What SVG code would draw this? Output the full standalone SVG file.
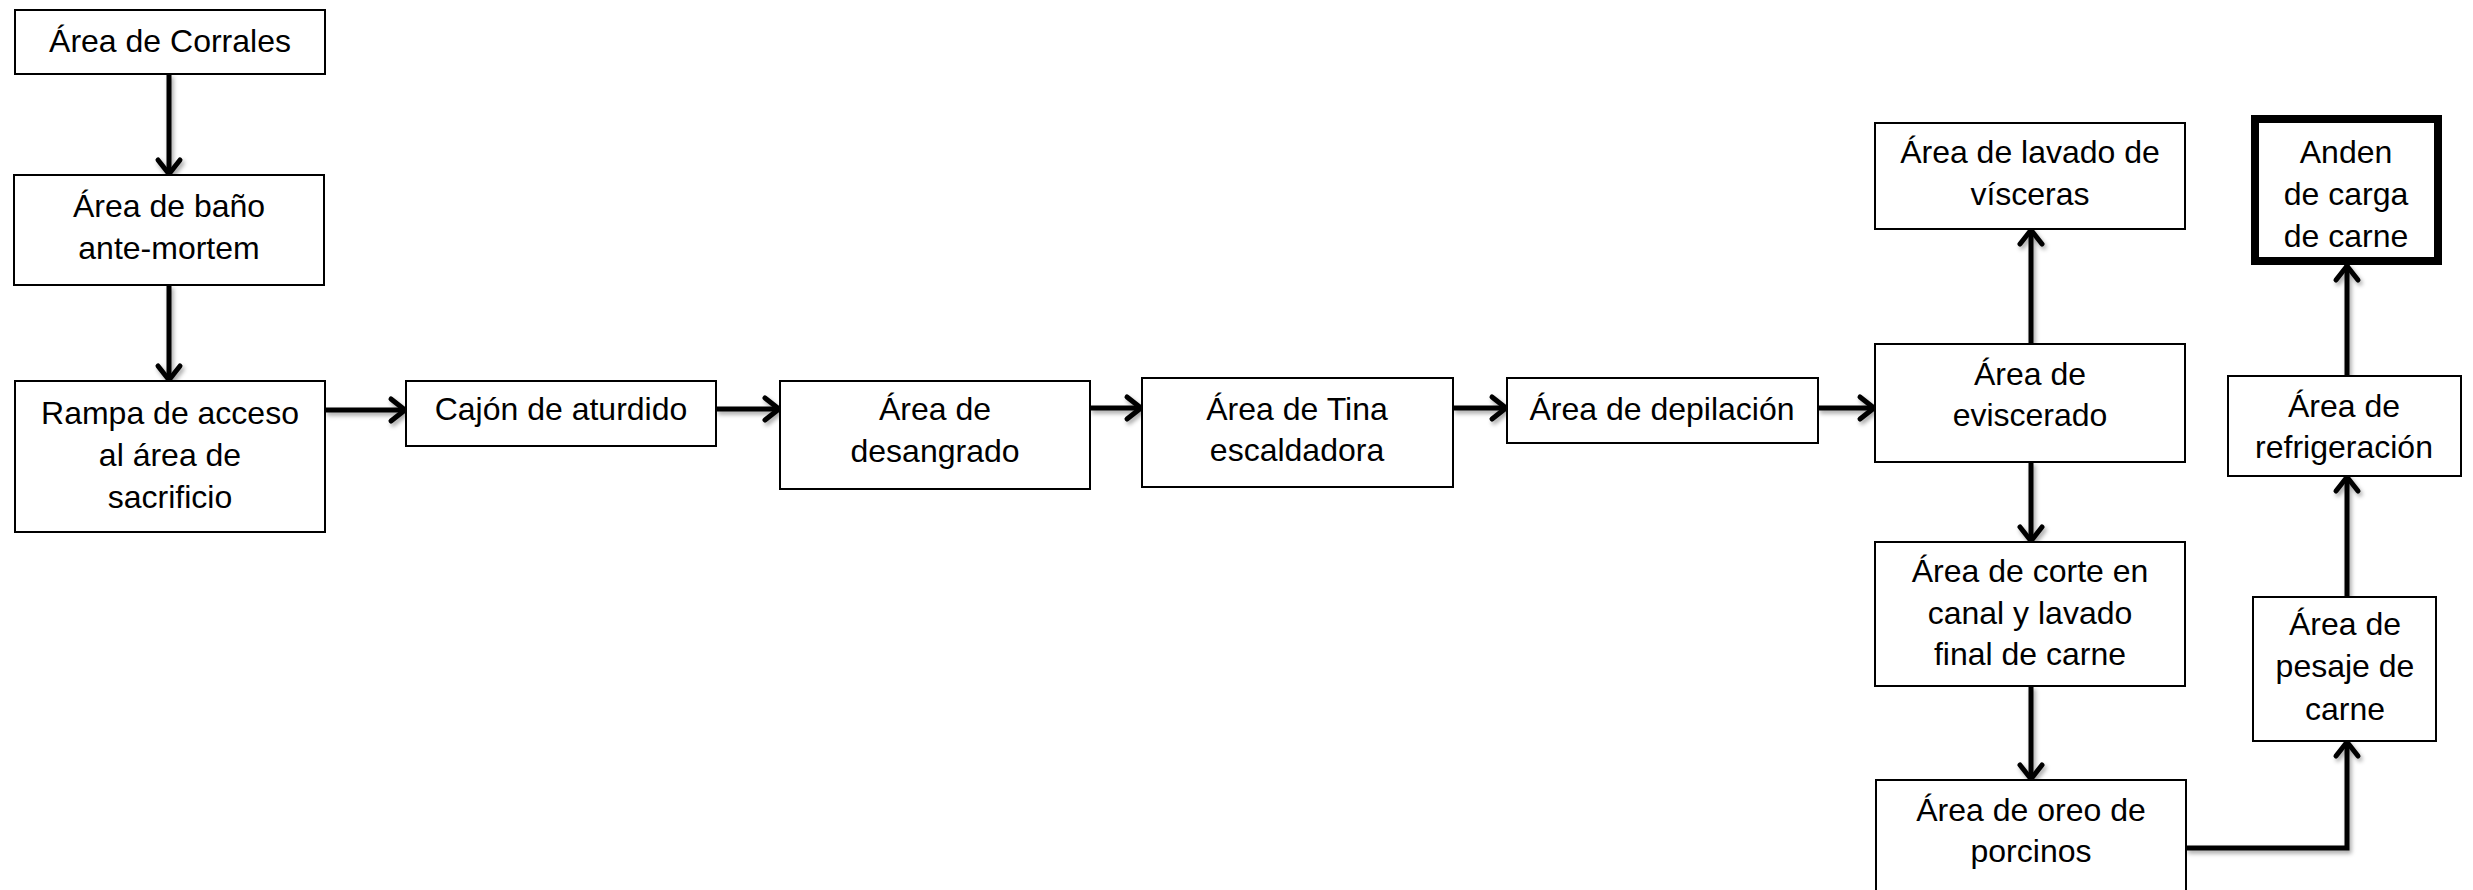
<svg xmlns="http://www.w3.org/2000/svg" width="2473" height="890" viewBox="0 0 2473 890">
<style>
.box{fill:#fff;stroke:#000;stroke-width:2}
.thick{fill:#fff;stroke:#000;stroke-width:8}
.t{font-family:"Liberation Sans",Arial,sans-serif;font-size:32px;fill:#000;text-anchor:middle}
.c{fill:none;stroke:#000;stroke-width:5;marker-end:url(#ah)}
</style>
<defs>
<marker id="ah" markerUnits="userSpaceOnUse" markerWidth="40" markerHeight="40" viewBox="-20 -20 40 40" refX="0" refY="0" orient="auto">
<path d="M -15 -11 L -1 0 L -15 11" fill="none" stroke="#000" stroke-width="5" stroke-linecap="round" stroke-linejoin="round"/>
</marker>
<filter id="sh" x="-20%" y="-20%" width="140%" height="140%">
<feDropShadow dx="2" dy="3" stdDeviation="2" flood-color="#000" flood-opacity="0.35"/>
</filter>
</defs>
<rect width="2473" height="890" fill="#fff"/>
<g id="connectors" filter="url(#sh)">
<path class="c" d="M169 74 V175"/>
<path class="c" d="M169 285 V381"/>
<path class="c" d="M325 410 H406"/>
<path class="c" d="M716 409 H780"/>
<path class="c" d="M1090 408 H1142"/>
<path class="c" d="M1453 408 H1507"/>
<path class="c" d="M1818 408 H1875"/>
<path class="c" d="M2031 344 V229"/>
<path class="c" d="M2031 462 V542"/>
<path class="c" d="M2031 686 V780"/>
<path class="c" d="M2186 848 H2347 V741"/>
<path class="c" d="M2347 597 V476"/>
<path class="c" d="M2347 376 V265"/>
</g>
<g id="n-corrales"><rect class="box" x="15" y="10" width="310" height="64"/><text class="t" x="170" y="52">Área de Corrales</text></g>
<g id="n-bano"><rect class="box" x="14" y="175" width="310" height="110"/><text class="t" x="169" y="217">Área de baño</text><text class="t" x="169" y="259">ante-mortem</text></g>
<g id="n-rampa"><rect class="box" x="15" y="381" width="310" height="151"/><text class="t" x="170" y="424">Rampa de acceso</text><text class="t" x="170" y="466">al área de</text><text class="t" x="170" y="508">sacrificio</text></g>
<g id="n-cajon"><rect class="box" x="406" y="381" width="310" height="65"/><text class="t" x="561" y="420">Cajón de aturdido</text></g>
<g id="n-desangrado"><rect class="box" x="780" y="381" width="310" height="108"/><text class="t" x="935" y="420">Área de</text><text class="t" x="935" y="462">desangrado</text></g>
<g id="n-tina"><rect class="box" x="1142" y="378" width="311" height="109"/><text class="t" x="1297" y="420">Área de Tina</text><text class="t" x="1297" y="461">escaldadora</text></g>
<g id="n-depilacion"><rect class="box" x="1507" y="378" width="311" height="65"/><text class="t" x="1662" y="420">Área de depilación</text></g>
<g id="n-eviscerado"><rect class="box" x="1875" y="344" width="310" height="118"/><text class="t" x="2030" y="385">Área de</text><text class="t" x="2030" y="426">eviscerado</text></g>
<g id="n-lavado"><rect class="box" x="1875" y="123" width="310" height="106"/><text class="t" x="2030" y="163">Área de lavado de</text><text class="t" x="2030" y="205">vísceras</text></g>
<g id="n-corte"><rect class="box" x="1875" y="542" width="310" height="144"/><text class="t" x="2030" y="582">Área de corte en</text><text class="t" x="2030" y="624">canal y lavado</text><text class="t" x="2030" y="665">final de carne</text></g>
<g id="n-oreo"><rect class="box" x="1876" y="780" width="310" height="130"/><text class="t" x="2031" y="821">Área de oreo de</text><text class="t" x="2031" y="862">porcinos</text></g>
<g id="n-pesaje"><rect class="box" x="2253" y="597" width="183" height="144"/><text class="t" x="2345" y="635">Área de</text><text class="t" x="2345" y="677">pesaje de</text><text class="t" x="2345" y="720">carne</text></g>
<g id="n-refrigeracion"><rect class="box" x="2228" y="376" width="233" height="100"/><text class="t" x="2344" y="417">Área de</text><text class="t" x="2344" y="458">refrigeración</text></g>
<g id="n-anden"><rect class="thick" x="2255" y="119" width="183" height="142"/><text class="t" x="2346" y="163">Anden</text><text class="t" x="2346" y="205">de carga</text><text class="t" x="2346" y="247">de carne</text></g>
</svg>
